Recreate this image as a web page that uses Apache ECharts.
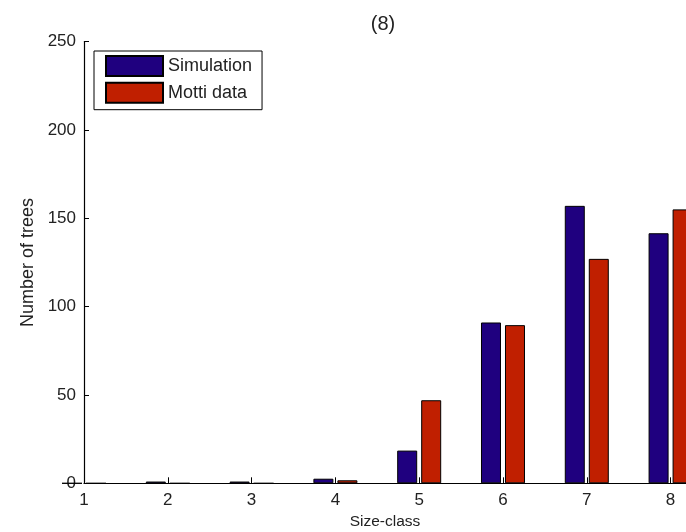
<!DOCTYPE html>
<html>
<head>
<meta charset="utf-8">
<script src="https://cdn.jsdelivr.net/npm/echarts@6/dist/echarts.min.js"></script>
<style>
  html, body { margin: 0; padding: 0; background: #fff; }
  #chart { width: 686px; height: 532px; }
</style>
</head>
<body>
<div id="chart"></div>
<script>
// Size classes on the horizontal axis
var sizeClasses = [1, 2, 3, 4, 5, 6, 7, 8];
// Tree counts per size class
var simulation = [0, 1, 1, 2.6, 18.5, 91, 157, 141.5];
var mottiData  = [0, 0, 0, 1.7, 47, 89.5, 127, 155];
// Tick values of the count axis
var yTicks = [0, 50, 100, 150, 200, 250];

var FONT = '"Liberation Sans", Arial, sans-serif';

function pairs(values) {
  return sizeClasses.map(function (x, i) { return [x, values[i]]; });
}

var chart = echarts.init(document.getElementById('chart'), null, { renderer: 'canvas' });

chart.setOption({
  backgroundColor: '#ffffff',
  animation: false,
  title: {
    text: '(8)',
    left: 378,
    top: 9,
    textAlign: 'center',
    textStyle: { fontFamily: FONT, fontSize: 20, fontWeight: 'normal', color: '#222' }
  },
  legend: {
    orient: 'vertical',
    left: 94,
    top: 51,
    width: 168,
    padding: [4, 10, 6, 11],
    itemGap: 4.7,
    itemWidth: 57,
    itemHeight: 20,
    backgroundColor: '#ffffff',
    borderColor: '#000',
    borderWidth: 1,
    borderRadius: 0,
    icon: 'rect',
    textStyle: { fontFamily: FONT, fontSize: 18, color: '#222' },
    data: ['Simulation', 'Motti data']
  },
  grid: {
    left: 84,
    right: 0,
    top: 41.5,
    bottom: 48.7,
    containLabel: false,
    outerBoundsMode: 'none'
  },
  xAxis: {
    type: 'value',
    min: 1,
    max: 8.184,
    interval: 1,
    name: 'Size-class',
    nameLocation: 'middle',
    nameGap: 30,
    nameTextStyle: { fontFamily: FONT, fontSize: 15.5, color: '#222' },
    axisLine: { show: true, lineStyle: { color: '#000', width: 1.2 } },
    axisTick: { show: true, inside: true, length: 6, lineStyle: { color: '#000' } },
    axisLabel: {
      fontFamily: FONT, fontSize: 17, color: '#222', margin: 9,
      showMaxLabel: false,
      formatter: function (v) { return Math.abs(v - Math.round(v)) < 1e-6 ? String(Math.round(v)) : ''; }
    },
    splitLine: { show: false }
  },
  yAxis: {
    type: 'value',
    min: yTicks[0],
    max: yTicks[yTicks.length - 1],
    interval: 50,
    name: 'Number of trees',
    nameLocation: 'middle',
    nameGap: 47,
    nameTextStyle: { fontFamily: FONT, fontSize: 18, color: '#222' },
    axisLine: { show: true, lineStyle: { color: '#000', width: 1.2 } },
    axisTick: { show: true, inside: true, length: 5, lineStyle: { color: '#000' } },
    axisLabel: { fontFamily: FONT, fontSize: 17, color: '#222', margin: 8 },
    splitLine: { show: false }
  },
  series: [
    {
      name: 'Simulation',
      type: 'bar',
      data: pairs(simulation),
      barWidth: 20,
      barGap: '20%',
      itemStyle: { color: '#1f007f', borderColor: '#000', borderWidth: 1 }
    },
    {
      name: 'Motti data',
      type: 'bar',
      data: pairs(mottiData),
      barWidth: 20,
      barGap: '20%',
      itemStyle: { color: '#c01f00', borderColor: '#000', borderWidth: 1 }
    }
  ]
});
</script>
</body>
</html>
